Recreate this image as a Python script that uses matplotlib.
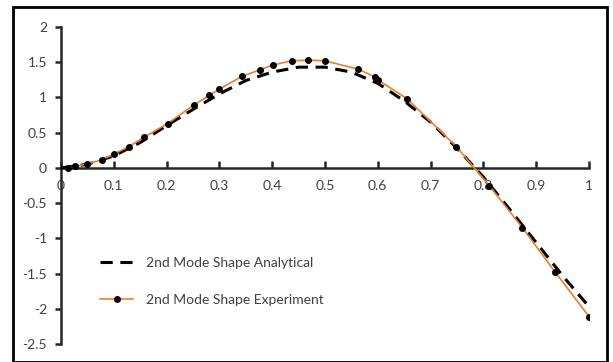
import matplotlib.pyplot as plt
import matplotlib.patches as patches

# %% datos
x_analitico = [0, 0.05, 0.1, 0.15, 0.2, 0.25, 0.3, 0.35, 0.4, 0.45, 0.5,
               0.55, 0.6, 0.65, 0.7, 0.75, 0.8, 0.85, 0.9, 0.95, 1.0]
y_analitico = [0, 0.05, 0.17, 0.36, 0.60, 0.83, 1.05, 1.24, 1.36, 1.43, 1.43,
               1.36, 1.20, 0.95, 0.65, 0.28, -0.13, -0.59, -1.06, -1.53, -1.97]

x_exp = [0.014, 0.027, 0.05, 0.077, 0.101, 0.128, 0.157, 0.202, 0.251, 0.281,
         0.30, 0.343, 0.376, 0.401, 0.437, 0.468, 0.50, 0.563, 0.595, 0.60,
         0.656, 0.749, 0.811, 0.874, 0.936, 1.0]
y_exp = [0.005, 0.02, 0.057, 0.113, 0.199, 0.30, 0.435, 0.63, 0.89, 1.03,
         1.12, 1.30, 1.39, 1.46, 1.52, 1.53, 1.52, 1.40, 1.29, 1.25,
         0.98, 0.30, -0.25, -0.85, -1.48, -2.11]

yticks = [2, 1.5, 1, 0.5, 0, -0.5, -1, -1.5, -2, -2.5]
xticks = [0, 0.1, 0.2, 0.3, 0.4, 0.5, 0.6, 0.7, 0.8, 0.9, 1]

# %%
plt.rcParams['font.family'] = ['Lato', 'DejaVu Sans']
gris = '#404040'

fig = plt.figure(figsize=(6.13, 3.62), dpi=100)
ax = fig.add_axes([61/613, 18/362, 528/613, 317/362])

ax.plot(x_analitico, y_analitico, color='black', lw=2.2, ls=(0, (4, 2.5)),
        label='2nd Mode Shape Analytical', zorder=3)
ax.plot(x_exp, y_exp, color='#ED7D31', lw=1.2, marker='o', ms=4,
        mfc='black', mec='black', label='2nd Mode Shape Experiment', zorder=4)

ax.set_xlim(0, 1)
ax.set_ylim(-2.5, 2)
ax.set_xticks(xticks)
ax.set_yticks(yticks)
ax.set_xticklabels([str(v) for v in xticks])
ax.set_yticklabels([str(v) for v in yticks])

ax.spines['left'].set_position(('data', 0))
ax.spines['bottom'].set_position(('data', 0))
ax.spines['right'].set_visible(False)
ax.spines['top'].set_visible(False)
for s in ['left', 'bottom']:
    ax.spines[s].set_linewidth(1.8)
    ax.spines[s].set_color('#262626')

ax.tick_params(axis='y', direction='out', length=4, width=1.8,
               color='#262626', labelsize=10, labelcolor=gris, pad=6)
ax.tick_params(axis='x', direction='in', length=5, width=1.8,
               color='#262626', labelsize=10, labelcolor=gris, pad=9)

ax.legend(loc='center left', bbox_to_anchor=(100/613, 0.222),
          bbox_transform=fig.transFigure, frameon=False, fontsize=10,
          labelcolor=gris, handlelength=2.4, handletextpad=0.9,
          labelspacing=1.8, borderpad=0, borderaxespad=0)

# marco exterior
marco = patches.Rectangle((13/613, 0.5/362), 594/613, 355/362,
                          transform=fig.transFigure, fill=False,
                          edgecolor='black', lw=2)
fig.patches.append(marco)

fig.savefig('out.png', dpi=100)
